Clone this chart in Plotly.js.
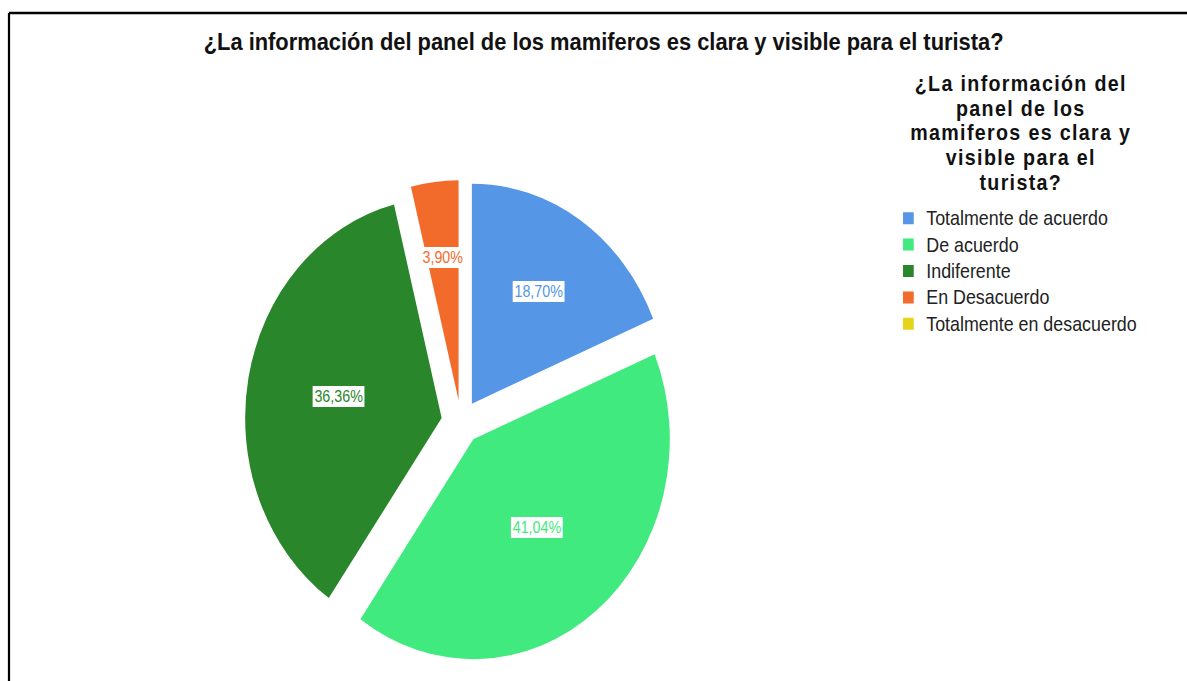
<!DOCTYPE html>
<html>
<head>
<meta charset="utf-8">
<script src="https://cdn.plot.ly/plotly-3.0.1.min.js"></script>
<style>
  html, body { margin: 0; padding: 0; overflow: hidden; background: #ffffff; }
  #wrap { width: 1187px; height: 681px; overflow: hidden; position: relative; }
  #chart { position: absolute; left: 0; top: 0; transform-origin: 0 0; }
</style>
</head>
<body>
<div id="wrap"><div id="chart"></div></div>
<script>
// ---- data ----
const categories = ['Totalmente de acuerdo', 'De acuerdo', 'Indiferente', 'En Desacuerdo', 'Totalmente en desacuerdo'];
const percentages = [18.70, 41.04, 36.36, 3.90, 0];
const sliceColors = ['#5596E6', '#41EA7E', '#2A862A', '#F26B2A', '#E5D41A'];
const chartTitle = '¿La información del panel de los mamiferos es clara y visible para el turista?';
const legendTitleLines = ['¿La información del', 'panel de los', 'mamiferos es clara y', 'visible para el', 'turista?'];

// ---- layout geometry (the original image is horizontally compressed) ----
const REAL_W = 1187, H = 681;
const S = 0.8932;
const W = Math.round(REAL_W / S);
const FONT = 'Liberation Sans, Arial, sans-serif';
const PULL = 0.1;
const pieCx = 516.1, pieCyUp = 259, pieHalf = 242;
const domX = [(pieCx - pieHalf) / W, (pieCx + pieHalf) / W];
const domY = [(pieCyUp - pieHalf) / H, (pieCyUp + pieHalf) / H];
const pieR = pieHalf / (1 + PULL);
const labelR = [0.61, 0.515, 0.535, 0.655, 0.6];

const fmt = v => v.toFixed(2).replace('.', ',') + '%';
// legend entries: glyphs at 20px, row spacing driven by the 18px legend font
const legendLabels = categories.map(c => '<span style="font-size:20px">' + c + '</span>');

const trace = {
  type: 'pie',
  labels: legendLabels,
  values: percentages,
  sort: false,
  direction: 'clockwise',
  rotation: 0,
  pull: PULL,
  marker: { colors: sliceColors, line: { width: 0 } },
  textinfo: 'none',
  hoverinfo: 'percent',
  domain: { x: domX, y: domY },
  showlegend: true
};

// slice labels placed along each slice's mid-angle, computed from the values
const total = percentages.reduce((a, b) => a + b, 0);
const annotations = [];
let cum = 0;
percentages.forEach((v, i) => {
  const mid = (cum + v / 2) / total * 2 * Math.PI;
  cum += v;
  if (v <= 0) return;
  const d = (PULL + labelR[i]) * pieR;
  annotations.push({
    xref: 'paper', yref: 'paper',
    x: (pieCx + d * Math.sin(mid)) / W,
    y: (pieCyUp + d * Math.cos(mid)) / H,
    xanchor: 'center', yanchor: 'middle',
    text: fmt(v), showarrow: false,
    font: { family: FONT, size: 16, color: sliceColors[i] },
    bgcolor: '#ffffff', borderpad: 2, borderwidth: 0
  });
});

// legend heading: one text block with tight leading (19px base -> ~24.7px rows), 22px glyphs
annotations.push({
  xref: 'paper', yref: 'paper',
  x: 1142.7 / W, y: 1 - 133 / H,
  xanchor: 'center', yanchor: 'middle', align: 'center',
  text: legendTitleLines.map(t => '<span style="font-size:22px;letter-spacing:1.5px">' + t + '</span>').join('<br>'),
  showarrow: false,
  font: { family: FONT, size: 19, color: '#111111', weight: 'bold' }
});

const layout = {
  width: W, height: H,
  margin: { l: 0, r: 0, t: 0, b: 0 },
  paper_bgcolor: '#ffffff',
  font: { family: FONT, color: '#111111' },
  title: {
    text: chartTitle,
    x: 675.8 / W, xanchor: 'center',
    y: 1 - 41 / H, yanchor: 'middle', yref: 'container',
    font: { family: FONT, size: 24.5, color: '#111111', weight: 'bold' }
  },
  legend: {
    x: 997 / W, xanchor: 'left',
    y: 1 - 200 / H, yanchor: 'top',
    font: { family: FONT, size: 18, color: '#222222' },
    bgcolor: 'rgba(0,0,0,0)',
    itemclick: false, itemdoubleclick: false
  },
  annotations: annotations,
  shapes: [
    { type: 'line', xref: 'paper', yref: 'paper', x0: 9 / REAL_W, x1: 1.05, y0: 1 - 13 / H, y1: 1 - 13 / H, line: { color: '#000000', width: 2.5 } },
    { type: 'line', xref: 'paper', yref: 'paper', x0: 9 / REAL_W, x1: 9 / REAL_W, y0: 1 - 13 / H, y1: -0.05, line: { color: '#000000', width: 2.5 } }
  ]
};

const el = document.getElementById('chart');
el.style.transform = 'scaleX(' + S + ')';
Plotly.newPlot(el, [trace], layout, { displayModeBar: false, responsive: false });
</script>
</body>
</html>
